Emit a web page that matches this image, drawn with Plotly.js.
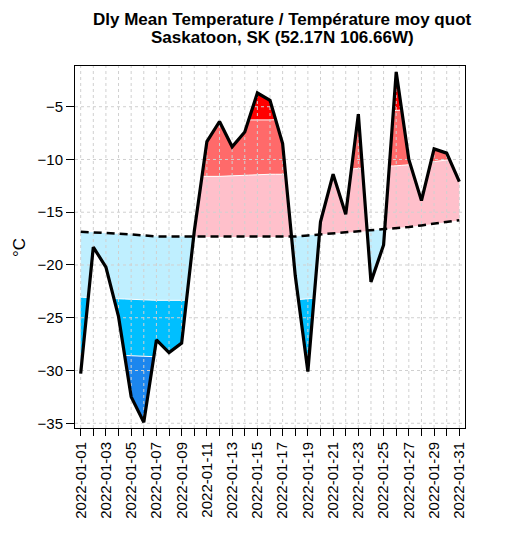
<!DOCTYPE html>
<html>
<head>
<meta charset="utf-8">
<script src="https://cdn.plot.ly/plotly-3.0.1.min.js"></script>
<style>html,body{margin:0;padding:0;background:#fff;}#chart{width:517px;height:534px;}</style>
</head>
<body>
<div id="chart"></div>
<script>
// ---- data ----
const days = [1,2,3,4,5,6,7,8,9,10,11,12,13,14,15,16,17,18,19,20,21,22,23,24,25,26,27,28,29,30,31];
const meanTemp = [-30.3,-18.3,-20.2,-24.9,-32.5,-34.9,-27.1,-28.3,-27.4,-16.8,-8.3,-6.4,-8.8,-7.4,-3.7,-4.4,-8.5,-21.0,-30.1,-15.9,-11.4,-15.2,-5.7,-21.6,-18.1,-1.7,-10.0,-13.9,-9.0,-9.4,-12.1];
const normalTemp = [-16.85,-16.9,-17.0,-17.05,-17.1,-17.2,-17.3,-17.3,-17.3,-17.3,-17.35,-17.35,-17.35,-17.35,-17.35,-17.35,-17.35,-17.3,-17.2,-17.1,-17.0,-16.95,-16.85,-16.75,-16.6,-16.5,-16.4,-16.25,-16.1,-15.95,-15.75];
const aboveBand1 = [-11.2,-11.25,-11.35,-11.4,-11.45,-11.55,-11.6,-11.6,-11.6,-11.6,-11.6,-11.6,-11.55,-11.5,-11.45,-11.4,-11.4,-11.35,-11.25,-11.15,-11.05,-10.95,-10.85,-10.75,-10.65,-10.6,-10.5,-10.35,-10.2,-10.05,-9.9];
const aboveBand2 = [-5.9,-5.95,-6.05,-6.1,-6.15,-6.2,-6.25,-6.25,-6.25,-6.25,-6.25,-6.25,-6.25,-6.25,-6.25,-6.25,-6.2,-6.15,-6.05,-5.95,-5.85,-5.75,-5.65,-5.55,-5.45,-5.35,-5.25,-5.1,-4.95,-4.8,-4.65];
const belowBand1 = [-23.05,-23.1,-23.15,-23.2,-23.25,-23.3,-23.35,-23.35,-23.35,-23.35,-23.35,-23.35,-23.35,-23.35,-23.35,-23.35,-23.35,-23.3,-23.2,-23.1,-23.0,-22.9,-22.8,-22.7,-22.55,-22.45,-22.3,-22.15,-22.0,-21.85,-21.65];
const belowBand2 = [-28.4,-28.45,-28.5,-28.55,-28.6,-28.65,-28.7,-28.7,-28.7,-28.7,-28.7,-28.7,-28.7,-28.7,-28.7,-28.7,-28.7,-28.65,-28.55,-28.45,-28.35,-28.25,-28.15,-28.0,-27.9,-27.75,-27.6,-27.45,-27.3,-27.1,-26.9];
const labelDays = [1,3,5,7,9,11,13,15,17,19,21,23,25,27,29,31];
const tickLabels = ['2022-01-01','2022-01-03','2022-01-05','2022-01-07','2022-01-09','2022-01-11','2022-01-13','2022-01-15','2022-01-17','2022-01-19','2022-01-21','2022-01-23','2022-01-25','2022-01-27','2022-01-29','2022-01-31'];
const yTicks = [-35,-30,-25,-20,-15,-10,-5];

const colLightBlue = '#bfefff', colBlue = '#00bfff', colDarkBlue = '#1c86ee';
const colPink = '#ffc0cb', colLightRed = '#ff6a6a', colRed = '#ff0000';
const xRange = [0.55, 31.45], yRange = [-35.45, -1.14];

// ---- geometry: breakpoints where the series crosses each reference line ----
const refs = [normalTemp, aboveBand1, aboveBand2, belowBand1, belowBand2];
const xs = [];
for (let i = 0; i < days.length - 1; i++) {
  xs.push(days[i]);
  const cuts = [];
  refs.forEach(r => {
    const d0 = meanTemp[i] - r[i], d1 = meanTemp[i+1] - r[i+1];
    if (d0 * d1 < 0) cuts.push(days[i] + d0 / (d0 - d1) * (days[i+1] - days[i]));
  });
  cuts.sort((a,b)=>a-b).forEach(c => xs.push(c));
}
xs.push(days[days.length-1]);
function at(arr, x) {
  let i = Math.min(Math.floor(x) - 1, days.length - 2);
  if (i < 0) i = 0;
  const t = (x - days[i]) / (days[i+1] - days[i]);
  return arr[i] + t * (arr[i+1] - arr[i]);
}
const A = xs.map(x => at(meanTemp, x));
const N = xs.map(x => at(normalTemp, x));
const U1 = xs.map(x => at(aboveBand1, x));
const U2 = xs.map(x => at(aboveBand2, x));
const L1 = xs.map(x => at(belowBand1, x));
const L2 = xs.map(x => at(belowBand2, x));
const mn = Math.min, mx = Math.max, eps = 1e-9;

// one closed polygon per band: along the outer edge, back along the base
function band(base, edge, color) {
  const px = xs.concat(xs.slice().reverse(), [xs[0]]);
  const py = edge.concat(base.slice().reverse(), [edge[0]]);
  return {x: px, y: py, mode: 'lines', fill: 'toself', fillcolor: color,
          line: {width: 0, simplify: false}, hoverinfo: 'skip'};
}
const traces = [];
traces.push(band(N, xs.map((x,k) => mn(N[k], mx(A[k], L1[k]))), colLightBlue));
traces.push(band(L1, xs.map((x,k) => mn(L1[k], mx(A[k], L2[k]))), colBlue));
traces.push(band(L2, xs.map((x,k) => mn(L2[k], A[k])), colDarkBlue));
traces.push(band(N, xs.map((x,k) => mx(N[k], mn(A[k], U1[k]))), colPink));
traces.push(band(U1, xs.map((x,k) => mx(U1[k], mn(A[k], U2[k]))), colLightRed));
traces.push(band(U2, xs.map((x,k) => mx(U2[k], A[k])), colRed));

// thin white separators only where one band meets the next
function sep(ref, beyond) {
  return {x: xs, y: xs.map((x,k) => beyond(k) ? ref[k] : null), mode: 'lines', connectgaps: false,
          line: {color: '#ffffff', width: 1, simplify: false}, hoverinfo: 'skip'};
}
traces.push(sep(L1, k => A[k] <= L1[k] + eps));
traces.push(sep(L2, k => A[k] <= L2[k] + eps));
traces.push(sep(U1, k => A[k] >= U1[k] - eps));
traces.push(sep(U2, k => A[k] >= U2[k] - eps));

// grid drawn above the fills
const gx = [], gy = [];
days.forEach(d => { gx.push(d, d, null); gy.push(yRange[0], yRange[1], null); });
yTicks.forEach(v => { gx.push(xRange[0], xRange[1], null); gy.push(v, v, null); });
traces.push({x: gx, y: gy, mode: 'lines', line: {color: '#d0d0d0', width: 1, dash: 'dot'}, hoverinfo: 'skip', connectgaps: false});

traces.push({x: days, y: normalTemp, mode: 'lines', line: {color: '#000', width: 2.5, dash: '8px,5px'}, hoverinfo: 'skip'});
traces.push({x: days, y: meanTemp, mode: 'lines', line: {color: '#000', width: 3.2}, hoverinfo: 'skip'});

const font = 'Liberation Sans, Arial, Helvetica, sans-serif';
const layout = {
  width: 517, height: 534,
  margin: {l: 75, r: 52, t: 66, b: 106, pad: 0},
  paper_bgcolor: '#fff', plot_bgcolor: '#fff',
  showlegend: false,
  font: {family: font, color: '#000'},
  xaxis: {
    range: xRange, tickmode: 'array', tickvals: days,
    ticktext: days.map(d => { const j = labelDays.indexOf(d); return j >= 0 ? tickLabels[j] : ''; }),
    tickangle: -90, ticks: 'outside', ticklen: 7, tickwidth: 1, tickcolor: '#000',
    showgrid: false, zeroline: false, showline: true, linecolor: '#000', linewidth: 1, mirror: true,
    tickfont: {family: font, size: 15, color: '#000'}
  },
  yaxis: {
    range: yRange, tickmode: 'array', tickvals: yTicks,
    ticks: 'outside', ticklen: 8, tickwidth: 1, tickcolor: '#000',
    showgrid: false, zeroline: false, showline: true, linecolor: '#000', linewidth: 1, mirror: true,
    tickfont: {family: font, size: 15, color: '#000'}
  },
  annotations: [
    {text: '<b>Dly Mean Temperature / Température moy quot</b>', xref: 'paper', yref: 'paper', x: 0.532, y: 1.128, xanchor: 'center', yanchor: 'middle', showarrow: false, font: {family: font, size: 17, color: '#000'}},
    {text: '<b>Saskatoon, SK (52.17N 106.66W)</b>', xref: 'paper', yref: 'paper', x: 0.532, y: 1.078, xanchor: 'center', yanchor: 'middle', showarrow: false, font: {family: font, size: 17, color: '#000'}},
    {text: '°C', xref: 'paper', yref: 'paper', x: -0.1436, y: 0.5, xanchor: 'center', yanchor: 'middle', textangle: -90, showarrow: false, font: {family: font, size: 17, color: '#000'}}
  ]
};
Plotly.newPlot('chart', traces, layout, {displayModeBar: false, staticPlot: true});
</script>
</body>
</html>
